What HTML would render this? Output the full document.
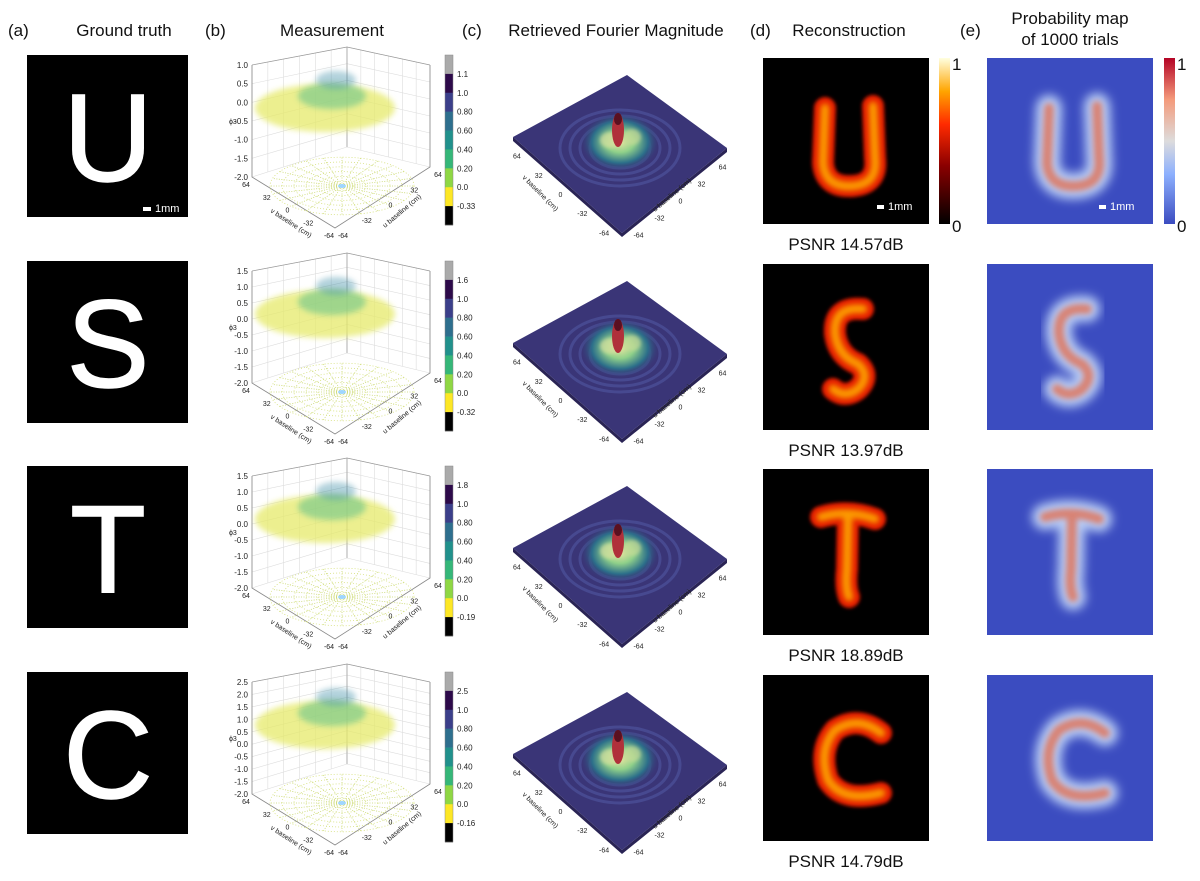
<!DOCTYPE html>
<html><head><meta charset="utf-8"><style>
body{margin:0;background:#fff;}
svg{display:block;font-family:"Liberation Sans",sans-serif;}
</style></head><body>
<svg id="fig" width="1200" height="881" viewBox="0 0 1200 881">
<defs>
<filter id="blur3" x="-50%" y="-50%" width="200%" height="200%"><feGaussianBlur stdDeviation="3"/></filter>
<filter id="blur2" x="-50%" y="-50%" width="200%" height="200%"><feGaussianBlur stdDeviation="1.8"/></filter>
<filter id="blur5" x="-50%" y="-50%" width="200%" height="200%"><feGaussianBlur stdDeviation="5"/></filter>
<linearGradient id="hotbar" x1="0" y1="1" x2="0" y2="0">
<stop offset="0" stop-color="#000"/><stop offset="0.35" stop-color="#8a0000"/><stop offset="0.6" stop-color="#ff2a00"/><stop offset="0.8" stop-color="#ffa500"/><stop offset="1" stop-color="#ffffe0"/></linearGradient>
<linearGradient id="cwbar" x1="0" y1="1" x2="0" y2="0">
<stop offset="0" stop-color="#3b4cc0"/><stop offset="0.3" stop-color="#8db0fe"/><stop offset="0.5" stop-color="#dddcdc"/><stop offset="0.75" stop-color="#f49a7b"/><stop offset="1" stop-color="#b40426"/></linearGradient>
<radialGradient id="peak" cx="0.5" cy="0.5" r="0.5">
<stop offset="0" stop-color="#e8e6a0"/><stop offset="0.35" stop-color="#8fd08a"/><stop offset="0.7" stop-color="#2c6f8a"/><stop offset="1" stop-color="#3a3577" stop-opacity="0"/></radialGradient>
</defs>
</svg>
<script>
const letters=['U','S','T','C'];
const psnr=['14.57','13.97','18.89','14.79'];
const cbTicks1=['1.1','1.0','0.80','0.60','0.40','0.20','0.0','-0.33'];
const cbTicks2=['1.6','1.0','0.80','0.60','0.40','0.20','0.0','-0.32'];
const cbTicks3=['1.8','1.0','0.80','0.60','0.40','0.20','0.0','-0.19'];
const cbTicks4=['2.5','1.0','0.80','0.60','0.40','0.20','0.0','-0.16'];
const zTicks1=['1.0','0.5','0.0','-0.5','-1.0','-1.5','-2.0'];
const zTicks2=['1.5','1.0','0.5','0.0','-0.5','-1.0','-1.5','-2.0'];
const zTicks3=['1.5','1.0','0.5','0.0','-0.5','-1.0','-1.5','-2.0'];
const zTicks4=['2.5','2.0','1.5','1.0','0.5','0.0','-0.5','-1.0','-1.5','-2.0'];
const baseTicks=['64','32','0','-32','-64'];
const cbAll=[cbTicks1,cbTicks2,cbTicks3,cbTicks4];
const zAll=[zTicks1,zTicks2,zTicks3,zTicks4];
const cbColors=['#aaaaaa','#2d0a4a','#3b3f8a','#2e6f8e','#21918c','#35b779','#8fd744','#fde725','#000000'];
const rowY=[0,206,411,617];
const svg=document.getElementById('fig');
const NS='http://www.w3.org/2000/svg';
function E(tag,attrs,parent,text){const e=document.createElementNS(NS,tag);for(const k in attrs)e.setAttribute(k,attrs[k]);if(text!==undefined)e.textContent=text;(parent||svg).appendChild(e);return e;}
const hdr=[['(a)',8,36,'start'],['Ground truth',124,36,'middle'],['(b)',205,36,'start'],['Measurement',332,36,'middle'],['(c)',462,36,'start'],['Retrieved Fourier Magnitude',616,36,'middle'],['(d)',750,36,'start'],['Reconstruction',849,36,'middle'],['(e)',960,36,'start'],['Probability map',1070,24,'middle'],['of 1000 trials',1070,45,'middle']];
hdr.forEach(h=>{const t=E('text',{x:h[1],y:h[2],'font-size':17,'text-anchor':h[3],fill:'#111'},svg,h[0]);

});
const recPaths={
U:'M62,50 L60,105 Q62,130 90,128 Q115,126 112,100 L110,48',
S:'M100,45 Q70,42 72,70 Q75,92 95,100 Q108,112 95,125 Q82,135 70,125',
T:'M58,48 Q85,40 112,50 M85,46 L84,100 Q82,118 86,128',
C:'M118,58 Q95,40 72,55 Q55,75 65,105 Q80,128 118,118'};
for(let r=0;r<4;r++){
 const oy=rowY[r];
 const g=E('g',{});
 const gt=E('rect',{x:27,y:55+oy,width:161,height:162,fill:'#000'},g);
 
 const lt=E('text',{x:108,y:181+oy,'font-size':124,'text-anchor':'middle',fill:'#fff',stroke:'#fff','stroke-width':1.5},g,letters[r]);
 
 if(r===0){E('rect',{x:143,y:207,width:8,height:4,fill:'#fff'},g);E('text',{x:155,y:212,'font-size':11,fill:'#fff'},g,'1mm');}
 const m=E('g',{},g);
 const A=[252,65+oy],B=[347,47+oy],C=[430,65+oy],Ab=[252,177+oy],Bb=[347,147+oy],Cb=[430,167+oy],F=[335,228+oy];
 for(let i=0;i<=6;i++){const t=i/6;
  E('line',{x1:A[0]+(B[0]-A[0])*t,y1:A[1]+(B[1]-A[1])*t,x2:Ab[0]+(Bb[0]-Ab[0])*t,y2:Ab[1]+(Bb[1]-Ab[1])*t,stroke:'#ddd','stroke-width':0.6},m);
  E('line',{x1:B[0]+(C[0]-B[0])*t,y1:B[1]+(C[1]-B[1])*t,x2:Bb[0]+(Cb[0]-Bb[0])*t,y2:Bb[1]+(Cb[1]-Bb[1])*t,stroke:'#ddd','stroke-width':0.6},m);}
 const zt=zAll[r];
 zt.forEach((v,i)=>{const t=i/(zt.length-1);
  const ya=A[1]+(Ab[1]-A[1])*t,yb=B[1]+(Bb[1]-B[1])*t,yc=C[1]+(Cb[1]-C[1])*t;
  E('polyline',{points:`${A[0]},${ya} ${B[0]},${yb} ${C[0]},${yc}`,fill:'none',stroke:'#ddd','stroke-width':0.6},m);
  const tx=E('text',{x:A[0]-4,y:ya+3,'font-size':8,'text-anchor':'end',fill:'#222'},m,v);
  });
 E('polyline',{points:`${A[0]},${A[1]} ${Ab[0]},${Ab[1]} ${F[0]},${F[1]} ${Cb[0]},${Cb[1]} ${C[0]},${C[1]}`,fill:'none',stroke:'#888','stroke-width':0.8},m);
 E('polyline',{points:`${A[0]},${A[1]} ${B[0]},${B[1]} ${C[0]},${C[1]}`,fill:'none',stroke:'#999','stroke-width':0.7},m);
 E('line',{x1:B[0],y1:B[1],x2:Bb[0],y2:Bb[1],stroke:'#999','stroke-width':0.7},m);
 for(let k=0;k<24;k++){const a=k*Math.PI/12;
  E('line',{x1:342,y1:186+oy,x2:342+72*Math.cos(a),y2:186+oy+29*Math.sin(a),stroke:'#c9d870','stroke-width':0.8,'stroke-dasharray':'1 1.5'},m);}
 for(let k=1;k<=6;k++)E('ellipse',{cx:342,cy:186+oy,rx:k*12,ry:k*4.8,fill:'none',stroke:'#d5e07a','stroke-width':0.8,'stroke-dasharray':'1 2'},m);
 E('ellipse',{cx:342,cy:186+oy,rx:4,ry:2,fill:'#9fd6ff'},m);
 E('ellipse',{cx:325,cy:108+oy,rx:70,ry:24,fill:'#e6ea6a',opacity:0.75,filter:'url(#blur3)'},m);
 E('ellipse',{cx:332,cy:96+oy,rx:34,ry:13,fill:'#6cc58a',opacity:0.6,filter:'url(#blur3)'},m);
 E('ellipse',{cx:336,cy:80+oy,rx:20,ry:9,fill:'#3f8fa8',opacity:0.4,filter:'url(#blur3)'},m);
 baseTicks.forEach((v,i)=>{const t=i/4;
  const x1=Ab[0]+(F[0]-Ab[0])*t,y1=Ab[1]+(F[1]-Ab[1])*t;
  E('text',{x:x1-6,y:y1+10,'font-size':7,'text-anchor':'middle',fill:'#222'},m,v);
  const x2=F[0]+(Cb[0]-F[0])*t,y2=F[1]+(Cb[1]-F[1])*t;
  E('text',{x:x2+8,y:y2+10,'font-size':7,'text-anchor':'middle',fill:'#222'},m,baseTicks[4-i]);});
 E('text',{x:270,y:212+oy,'font-size':7,fill:'#222',transform:`rotate(33 270 ${212+oy})`},m,'v baseline (cm)');
 E('text',{x:385,y:228+oy,'font-size':7,fill:'#222',transform:`rotate(-40 385 ${228+oy})`},m,'u baseline (cm)');
 E('text',{x:229,y:124+oy,'font-size':7,fill:'#222'},m,'ϕ3');
 const cb=E('g',{},g);
 const cy0=55+oy,cy1=225+oy,seg=(cy1-cy0)/9;
 cbColors.forEach((c,i)=>E('rect',{x:445,y:cy0+i*seg,width:8,height:seg+0.3,fill:c},cb));
 E('rect',{x:445,y:cy0,width:8,height:cy1-cy0,fill:'none',stroke:'#888','stroke-width':0.5},cb);
 cbAll[r].forEach((v,i)=>{E('text',{x:457,y:cy0+(i+1)*seg+3,'font-size':8,fill:'#222'},cb,v);});
 const s=E('g',{},g);
 const P=[[627,75+oy],[727,148+oy],[622,233+oy],[513,137+oy]];
 E('polygon',{points:`${P[3][0]},${P[3][1]} ${P[2][0]},${P[2][1]} ${P[1][0]},${P[1][1]} ${P[1][0]},${P[1][1]+4} ${P[2][0]},${P[2][1]+4} ${P[3][0]},${P[3][1]+4}`,fill:'#2a2455'},s);
 E('polygon',{points:P.map(p=>p.join(',')).join(' '),fill:'#3a3577'},s);
 for(let k=1;k<=4;k++)E('ellipse',{cx:620,cy:148+oy,rx:20+k*10,ry:14+k*6,fill:'none',stroke:'#4b4f96','stroke-width':3,opacity:0.8},s);
 E('ellipse',{cx:620,cy:142+oy,rx:40,ry:30,fill:'url(#peak)'},s);
 E('ellipse',{cx:610,cy:140+oy,rx:10,ry:8,fill:'#d8e0a0',opacity:0.7,filter:'url(#blur2)'},s);
 E('ellipse',{cx:632,cy:137+oy,rx:9,ry:8,fill:'#c8dc98',opacity:0.7,filter:'url(#blur2)'},s);
 E('ellipse',{cx:618,cy:130+oy,rx:6,ry:17,fill:'#b0303a'},s);
 E('ellipse',{cx:618,cy:119+oy,rx:4,ry:6,fill:'#5a1020'},s);
 baseTicks.forEach((v,i)=>{const t=0.1+i*0.2;
  const x1=P[3][0]+(P[2][0]-P[3][0])*t,y1=P[3][1]+(P[2][1]-P[3][1])*t;
  E('text',{x:x1-7,y:y1+12,'font-size':7,'text-anchor':'middle',fill:'#222'},s,v);
  const x2=P[2][0]+(P[1][0]-P[2][0])*t,y2=P[2][1]+(P[1][1]-P[2][1])*t;
  E('text',{x:x2+6,y:y2+13,'font-size':7,'text-anchor':'middle',fill:'#222'},s,baseTicks[4-i]);});
 E('text',{x:522,y:178+oy,'font-size':7,fill:'#222',transform:`rotate(45 522 ${178+oy})`},s,'v baseline (cm)');
 E('text',{x:655,y:212+oy,'font-size':7,fill:'#222',transform:`rotate(-40 655 ${212+oy})`},s,'u baseline (cm)');
 const rc=E('g',{},g);
 E('rect',{x:763,y:58+oy,width:166,height:166,fill:'#000'},rc);
 const rg=E('g',{transform:`translate(763 ${58+oy})`},rc);
 E('path',{d:recPaths[letters[r]],fill:'none',stroke:'#e51a00','stroke-width':22,'stroke-linecap':'round','stroke-linejoin':'round',filter:'url(#blur2)'},rg);
 E('path',{d:recPaths[letters[r]],fill:'none',stroke:'#ffb000','stroke-width':9,'stroke-linecap':'round',filter:'url(#blur3)',opacity:0.85},rg);
 if(r===0){E('rect',{x:877,y:205,width:7,height:4,fill:'#fff'},rc);E('text',{x:888,y:210,'font-size':11,fill:'#fff'},rc,'1mm');}
 const pt=E('text',{x:846,y:250+oy,'font-size':17,'text-anchor':'middle',fill:'#111'},g,'PSNR '+psnr[r]+'dB');
 
 const pm=E('g',{},g);
 E('rect',{x:987,y:58+oy,width:166,height:166,fill:'#3b4cc0'},pm);
 const pg=E('g',{transform:`translate(987 ${58+oy})`},pm);
 E('path',{d:recPaths[letters[r]],fill:'none',stroke:'#b9cdf5','stroke-width':26,'stroke-linecap':'round','stroke-linejoin':'round',filter:'url(#blur5)'},pg);
 E('path',{d:recPaths[letters[r]],fill:'none',stroke:'#dc7a66','stroke-width':10,'stroke-linecap':'round',filter:'url(#blur3)',opacity:0.9},pg);
 if(r===0){E('rect',{x:1099,y:205,width:7,height:4,fill:'#fff'},pm);E('text',{x:1110,y:210,'font-size':11,fill:'#fff'},pm,'1mm');}
}
const cbd=E('rect',{x:939,y:58,width:11,height:166,fill:'url(#hotbar)'});

E('text',{x:952,y:70,'font-size':17,fill:'#111'},svg,'1');E('text',{x:952,y:232,'font-size':17,fill:'#111'},svg,'0');
const cbe=E('rect',{x:1164,y:58,width:11,height:166,fill:'url(#cwbar)'});

E('text',{x:1177,y:70,'font-size':17,fill:'#111'},svg,'1');E('text',{x:1177,y:232,'font-size':17,fill:'#111'},svg,'0');
</script>
</body></html>
